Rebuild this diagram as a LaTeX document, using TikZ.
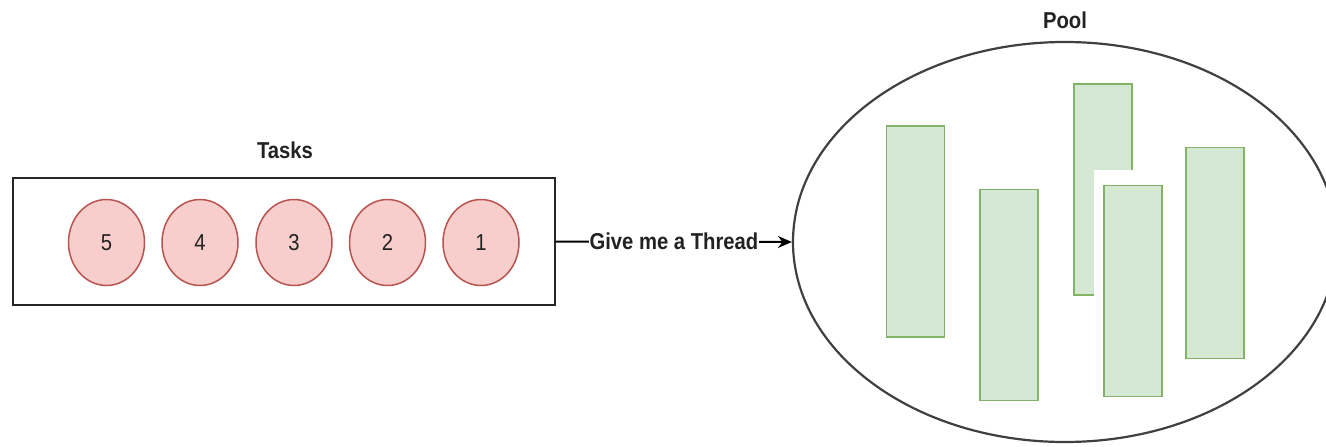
\documentclass[tikz,border=0pt]{standalone}
\usepackage{fontspec}
\setmainfont{Liberation Sans}
\newfontfamily\labfont[FakeStretch=0.88]{Liberation Sans}
\usetikzlibrary{shapes.geometric,arrows.meta}
\definecolor{taskfill}{HTML}{F8CECC}
\definecolor{taskline}{HTML}{B85450}
\definecolor{thrfill}{HTML}{D5E8D4}
\definecolor{thrline}{HTML}{82B366}
\definecolor{ink}{HTML}{222222}
\tikzset{
  task/.style={ellipse, draw=taskline, fill=taskfill, line width=1.5pt,
    minimum width=76pt, minimum height=86pt, inner sep=0pt,
    text=ink, font=\labfont\fontsize{23}{23}\selectfont},
  thread/.style={rectangle, draw=thrline, fill=thrfill, line width=1.6pt,
    minimum width=58pt, minimum height=211pt, inner sep=0pt},
  title/.style={text=ink, font=\labfont\bfseries\fontsize{23}{23}\selectfont, inner sep=0pt},
}
\begin{document}
\begin{tikzpicture}[x=1pt,y=-1pt]
\useasboundingbox (0,0) rectangle (1326,447);
\fill[white] (0,0) rectangle (1326,447);

% task queue
\node[draw=black!85, line width=2pt, minimum width=542pt, minimum height=127pt,
      inner sep=0pt] (tasks) at (284,241.5) {};
\node[title] (taskslabel) at (285,150) {Tasks};
\node[task] (t5) at (106.5,242.5) {5};
\node[task] (t4) at (200,242.5) {4};
\node[task] (t3) at (294,242.5) {3};
\node[task] (t2) at (387.5,242.5) {2};
\node[task] (t1) at (481,242.5) {1};

% thread pool
\node[ellipse, draw=black!75, line width=2.2pt, minimum width=544pt,
      minimum height=400pt, inner sep=0pt] (pool) at (1065,242) {};
\node[title] (poollabel) at (1065,20) {Pool};

\node[thread] (th1) at (915.5,231.5) {};
\node[thread] (th2) at (1009,295) {};
\node[thread] (th3) at (1103,189.5) {};
\node[fill=white, minimum width=78pt, minimum height=236pt, inner sep=0pt]
      (th4gap) at (1133,288) {};
\node[thread] (th4) at (1133,291) {};
\node[thread] (th5) at (1215,253) {};

% request arrow
\draw[line width=2pt, -{Stealth[length=14pt,width=12pt]}] (tasks.east) -- (pool.west)
  node[midway, fill=white, inner sep=1pt, text=ink,
       font=\labfont\bfseries\fontsize{23}{23}\selectfont] (req) {Give me a Thread};
\end{tikzpicture}
\end{document}
